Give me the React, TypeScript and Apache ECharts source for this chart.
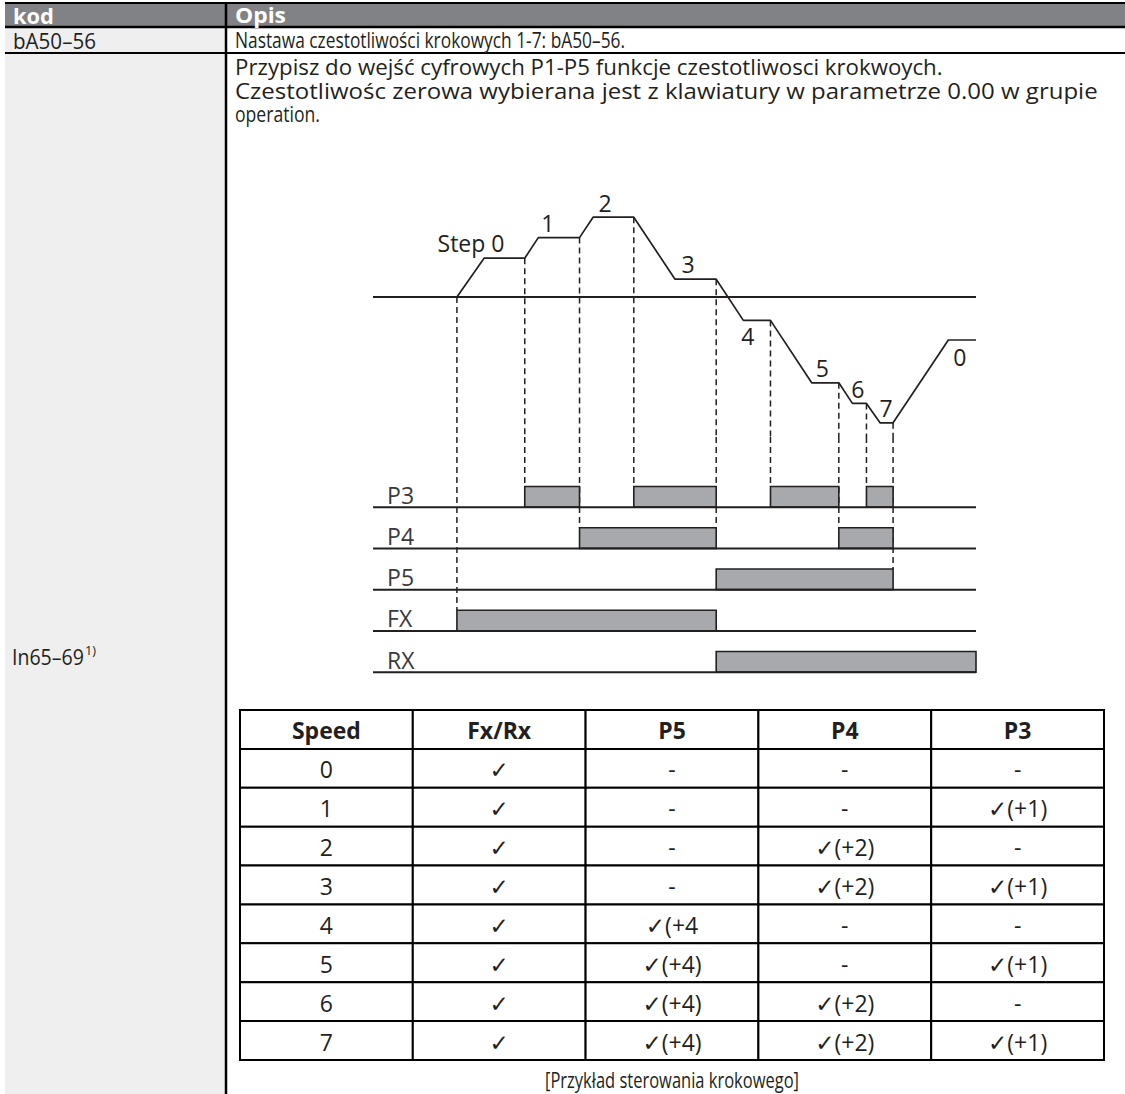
import React, { useEffect, useRef } from 'react';
import * as echarts from 'echarts';

const FONT = "'Open Sans', 'DejaVu Sans', sans-serif";
const INK = '#231f20';

// ---- speed profile (time units 0..120, speed units) ----
const profileTime = [16.7, 22.1, 30.2, 32.9, 41.1, 43.8, 51.9, 60.1, 68.3, 73.7, 79.1, 87.3, 92.7, 95.4, 98.2, 100.9, 103.5, 114.5, 120];
const profileSpeed = [0, 19.4, 19.4, 29.7, 29.7, 39.9, 39.9, 8.9, 8.9, -11.7, -11.7, -42.9, -42.9, -53.2, -53.2, -62.9, -62.9, -21.5, -21.5];
const stepLabels = ['Step 0', '1', '2', '3', '4', '5', '6', '7', '0'];
const stepLabelTime = [19.5, 34.8, 46.2, 62.7, 74.6, 89.4, 96.5, 102.1, 116.8];
const stepLabelSpeed = [27, 37, 47, 16.5, -19.5, -35.5, -46, -55.5, -30];

// ---- digital inputs ----
const signalNames = ['P3', 'P4', 'P5', 'FX', 'RX'];
const signalLevel = [4, 3, 2, 1, 0];
const p3On = [[30.2, 41.1], [51.9, 68.3], [79.1, 92.7], [98.2, 103.5]];
const p4On = [[41.1, 68.3], [92.7, 103.5]];
const p5On = [[68.3, 103.5]];
const fxOn = [[16.7, 68.3]];
const rxOn = [[68.3, 120]];
const eventTime = [16.7, 30.2, 41.1, 51.9, 68.3, 79.1, 92.7, 98.2, 103.5];
const eventSignal = ['FX', 'P3', 'P4', 'P3', 'P4', 'P3', 'P4', 'P3', 'P5'];

// ---- table ----
const tableHeader = ['Speed', 'Fx/Rx', 'P5', 'P4', 'P3'];
const speedSteps = ['0', '1', '2', '3', '4', '5', '6', '7'];
const fxrxCol = ['✓', '✓', '✓', '✓', '✓', '✓', '✓', '✓'];
const p5Col = ['-', '-', '-', '-', '✓(+4', '✓(+4)', '✓(+4)', '✓(+4)'];
const p4Col = ['-', '-', '✓(+2)', '✓(+2)', '-', '-', '✓(+2)', '✓(+2)'];
const p3Col = ['-', '✓(+1)', '-', '✓(+1)', '-', '✓(+1)', '-', '✓(+1)'];

const T_MIN = 0, T_MAX = 120;
const S_MIN = -70, S_MAX = 50;
const L_MIN = -0.5, L_MAX = 5.7;

let measureCtx: CanvasRenderingContext2D | null = null;
function fit(text: string, font: string, width: number): number {
  if (!measureCtx) measureCtx = document.createElement('canvas').getContext('2d');
  if (!measureCtx) return 1;
  measureCtx.font = font;
  const w = measureCtx.measureText(text).width;
  return w > 0 ? width / w : 1;
}

function gText(text: string, x: number, y: number, size: number, width: number | null, opts: any = {}) {
  const font = `${opts.bold ? 'bold ' : ''}${size}px ${FONT}`;
  const sx = width ? fit(text, font, width) : 1;
  const align = opts.align || 'left';
  return {
    type: 'text', x, y, scaleX: sx, z: 10,
    style: {
      text, font, fill: opts.color || INK,
      align, verticalAlign: 'middle', textAlign: align, textVerticalAlign: 'middle',
    },
  };
}

function levelOf(name: string) {
  return signalLevel[signalNames.indexOf(name)];
}
function speedAt(t: number) {
  return profileSpeed[profileTime.indexOf(t)];
}

function buildOption() {
  const pulses: number[][] = [];
  [p3On, p4On, p5On, fxOn, rxOn].forEach((arr, i) => {
    arr.forEach(([a, b]) => pulses.push([a, b, signalLevel[i]]));
  });

  const cells: { c: number; r: number; text: string; bold: boolean }[] = [];
  tableHeader.forEach((h, c) => cells.push({ c, r: 0, text: h, bold: true }));
  const cols = [speedSteps, fxrxCol, p5Col, p4Col, p3Col];
  speedSteps.forEach((_, r) => {
    cols.forEach((col, c) => cells.push({ c, r: r + 1, text: col[r], bold: false }));
  });

  const dash = { stroke: INK, lineWidth: 1.5, lineDash: [6, 4] };

  const graphic: any[] = [
    { type: 'rect', shape: { x: 5, y: 3, width: 1120, height: 24 }, style: { fill: '#808285' }, z: 1 },
    { type: 'rect', shape: { x: 5, y: 27, width: 221, height: 1067 }, style: { fill: '#efefef' }, z: 1 },
    { type: 'line', shape: { x1: 5, y1: 3, x2: 1125, y2: 3 }, style: { stroke: '#000', lineWidth: 2 }, z: 2 },
    { type: 'line', shape: { x1: 5, y1: 27, x2: 1125, y2: 27 }, style: { stroke: '#000', lineWidth: 2.5 }, z: 2 },
    { type: 'line', shape: { x1: 5, y1: 53, x2: 1125, y2: 53 }, style: { stroke: '#000', lineWidth: 2 }, z: 2 },
    { type: 'line', shape: { x1: 226, y1: 3, x2: 226, y2: 1094 }, style: { stroke: '#000', lineWidth: 2.5 }, z: 2 },
    gText('kod', 13, 15, 22, 41, { bold: true, color: '#ffffff' }),
    gText('Opis', 235, 15, 22, 51, { bold: true, color: '#ffffff' }),
    gText('bA50–56', 13, 40, 22, 83),
    gText('Nastawa czestotliwości krokowych 1-7: bA50–56.', 235, 40, 22, 390),
    gText('Przypisz do wejść cyfrowych P1-P5 funkcje czestotliwosci krokwoych.', 235, 66, 22, 708),
    gText('Czestotliwośc zerowa wybierana jest z klawiatury w parametrze 0.00 w grupie', 235, 90, 22, 863),
    gText('operation.', 235, 114, 22, 85),
    gText('In65–69', 12, 657, 22, 72),
    gText('1)', 85, 650, 13, 11),
    gText('[Przykład sterowania krokowego]', 672, 1080, 22, 254, { align: 'center' }),
  ];

  return {
    animation: false,
    backgroundColor: '#ffffff',
    graphic,
    grid: [
      { left: 373, top: 197, width: 603, height: 240 },
      { left: 373, top: 437, width: 603, height: 255.75 },
      { left: 240, top: 710, width: 864, height: 350 },
    ],
    xAxis: [
      { type: 'value', gridIndex: 0, min: T_MIN, max: T_MAX, show: false },
      { type: 'value', gridIndex: 1, min: T_MIN, max: T_MAX, show: false },
      { type: 'category', gridIndex: 2, data: tableHeader, show: false },
    ],
    yAxis: [
      { type: 'value', gridIndex: 0, min: S_MIN, max: S_MAX, show: false },
      { type: 'value', gridIndex: 1, min: L_MIN, max: L_MAX, show: false },
      { type: 'category', gridIndex: 2, data: ['h', ...speedSteps], inverse: true, show: false },
    ],
    series: [
      {
        type: 'line', xAxisIndex: 0, yAxisIndex: 0, silent: true, symbol: 'none', clip: false, z: 3,
        data: [[T_MIN, 0], [T_MAX, 0]],
        lineStyle: { color: INK, width: 2 },
      },
      {
        type: 'line', xAxisIndex: 0, yAxisIndex: 0, silent: true, symbol: 'none', clip: false, z: 3,
        data: profileTime.map((t, i) => [t, profileSpeed[i]]),
        lineStyle: { color: INK, width: 1.7 },
      },
      {
        type: 'custom', xAxisIndex: 0, yAxisIndex: 0, silent: true, clip: false, z: 2,
        data: eventTime.map((t) => [t, speedAt(t)]),
        renderItem: (params: any, api: any) => {
          const a = api.coord([api.value(0), api.value(1)]);
          const b = api.coord([api.value(0), S_MIN]);
          return { type: 'line', shape: { x1: a[0], y1: a[1], x2: b[0], y2: b[1] }, style: dash };
        },
      },
      {
        type: 'custom', xAxisIndex: 0, yAxisIndex: 0, silent: true, clip: false, z: 4,
        data: stepLabels.map((_, i) => [stepLabelTime[i], stepLabelSpeed[i]]),
        renderItem: (params: any, api: any) => {
          const p = api.coord([api.value(0), api.value(1)]);
          return {
            type: 'text', x: p[0], y: p[1],
            style: { text: stepLabels[params.dataIndex], font: `23px ${FONT}`, fill: INK, align: 'center', verticalAlign: 'middle' },
          };
        },
      },
      {
        type: 'custom', xAxisIndex: 1, yAxisIndex: 1, silent: true, clip: false, z: 2,
        data: eventTime.map((t, i) => [t, levelOf(eventSignal[i]) + 0.5]),
        renderItem: (params: any, api: any) => {
          const a = api.coord([api.value(0), L_MAX]);
          const b = api.coord([api.value(0), api.value(1)]);
          return { type: 'line', shape: { x1: a[0], y1: a[1], x2: b[0], y2: b[1] }, style: dash };
        },
      },
      {
        type: 'custom', xAxisIndex: 1, yAxisIndex: 1, silent: true, clip: false, z: 3,
        data: pulses,
        renderItem: (params: any, api: any) => {
          const lv = api.value(2);
          const a = api.coord([api.value(0), lv]);
          const b = api.coord([api.value(1), lv + 0.5]);
          return {
            type: 'rect',
            shape: { x: a[0], y: b[1], width: b[0] - a[0], height: a[1] - b[1] },
            style: { fill: '#a7a9ac', stroke: INK, lineWidth: 1.6 },
          };
        },
      },
      {
        type: 'custom', xAxisIndex: 1, yAxisIndex: 1, silent: true, clip: false, z: 4,
        data: signalLevel.map((lv) => [T_MIN, lv, T_MAX]),
        renderItem: (params: any, api: any) => {
          const a = api.coord([api.value(0), api.value(1)]);
          const b = api.coord([api.value(2), api.value(1)]);
          return { type: 'line', shape: { x1: a[0], y1: a[1], x2: b[0], y2: b[1] }, style: { stroke: INK, lineWidth: 2 } };
        },
      },
      {
        type: 'custom', xAxisIndex: 1, yAxisIndex: 1, silent: true, clip: false, z: 4,
        data: signalLevel.map((lv) => [2.8, lv]),
        renderItem: (params: any, api: any) => {
          const p = api.coord([api.value(0), api.value(1)]);
          return {
            type: 'text', x: p[0], y: p[1] - 1,
            style: { text: signalNames[params.dataIndex], font: `23px ${FONT}`, fill: '#3a3a3a', align: 'left', verticalAlign: 'bottom' },
          };
        },
      },
      {
        type: 'custom', xAxisIndex: 2, yAxisIndex: 2, silent: true, clip: false, z: 3,
        data: cells.map((c) => [c.c, c.r]),
        renderItem: (params: any, api: any) => {
          const cell = cells[params.dataIndex];
          const p = api.coord([api.value(0), api.value(1)]);
          const s = api.size([1, 1]);
          return {
            type: 'group',
            children: [
              {
                type: 'rect',
                shape: { x: p[0] - s[0] / 2, y: p[1] - s[1] / 2, width: s[0], height: s[1] },
                style: { fill: '#ffffff', stroke: '#000000', lineWidth: 2 },
              },
              {
                type: 'text', x: p[0], y: p[1] + 1,
                style: {
                  text: cell.text, font: `${cell.bold ? 'bold ' : ''}23px ${FONT}`, fill: INK,
                  align: 'center', verticalAlign: 'middle',
                },
              },
            ],
          };
        },
      },
    ],
  };
}

export default function App() {
  const ref = useRef<HTMLDivElement>(null);
  useEffect(() => {
    if (!ref.current) return;
    const chart = echarts.init(ref.current, null, { renderer: 'svg' });
    chart.setOption(buildOption() as any);
    return () => chart.dispose();
  }, []);
  return (
    <div
      ref={ref}
      style={{ position: 'absolute', left: 0, top: 0, width: 1125, height: 1094, background: '#ffffff' }}
    />
  );
}
